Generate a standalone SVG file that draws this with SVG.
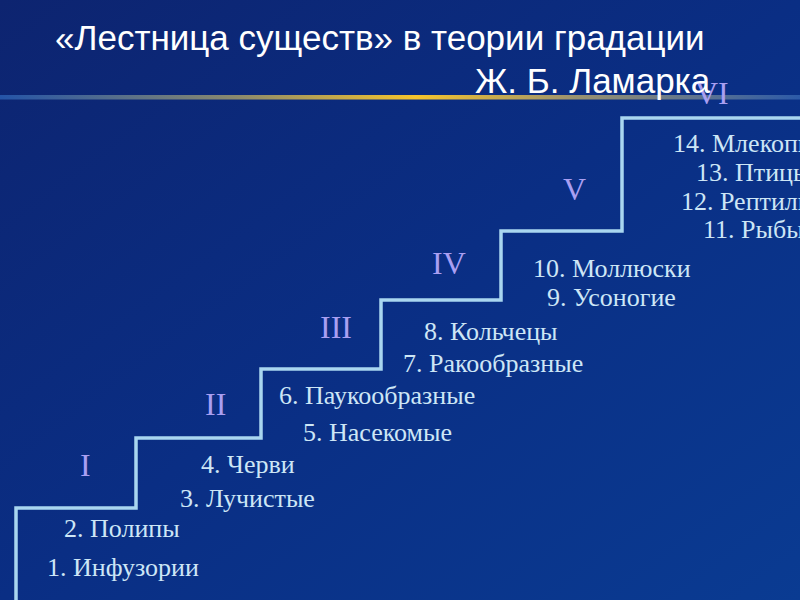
<svg xmlns="http://www.w3.org/2000/svg" width="800" height="600" viewBox="0 0 800 600">
<defs>
<linearGradient id="bg" x1="0" y1="0" x2="1" y2="1">
<stop offset="0" stop-color="#0d2470"/>
<stop offset="0.5" stop-color="#0a2e84"/>
<stop offset="1" stop-color="#0a3b92"/>
</linearGradient>
<linearGradient id="gold" x1="0" y1="0" x2="1" y2="0">
<stop offset="0" stop-color="#2454a8"/>
<stop offset="0.3" stop-color="#8c8a6c"/>
<stop offset="0.52" stop-color="#f6c42c"/>
<stop offset="0.72" stop-color="#9a9270"/>
<stop offset="1" stop-color="#2c5aa8"/>
</linearGradient>
<style>
.title{font-family:"Liberation Sans",Arial,sans-serif;font-size:35px;fill:#ffffff}
.roman{font-family:"Liberation Serif","Times New Roman",serif;font-size:32px;fill:#a99ff2}
.lbl{font-family:"Liberation Serif","Times New Roman",serif;font-size:26px;fill:#cde6f6}
.stair{fill:none;stroke:#a9d6f0;stroke-width:3.5;stroke-linejoin:miter}
</style>
</defs>
<rect x="0" y="0" width="800" height="600" fill="url(#bg)"/>
<rect x="0" y="95" width="800" height="4.5" fill="url(#gold)"/>
<g id="connectors">
<path class="stair" d="M16,600 V508 H136 V438 H261 V369 H381 V300 H501 V231 H622 V118 H802"/>
</g>
<g id="level-VI"><text class="roman" x="695" y="104">VI</text></g>
<g id="title">
<text class="title" x="55" y="50">«Лестница существ» в теории градации</text>
<text class="title" x="475" y="93">Ж. Б. Ламарка</text>
</g>
<g id="level-I">
<text class="roman" x="80" y="476">I</text>
<text class="lbl" x="47" y="576">1. Инфузории</text>
<text class="lbl" x="64" y="537">2. Полипы</text>
</g>
<g id="level-II">
<text class="roman" x="205" y="415">II</text>
<text class="lbl" x="180" y="507">3. Лучистые</text>
<text class="lbl" x="201" y="473">4. Черви</text>
</g>
<g id="level-III">
<text class="roman" x="320" y="338">III</text>
<text class="lbl" x="303" y="441">5. Насекомые</text>
<text class="lbl" x="279" y="404">6. Паукообразные</text>
</g>
<g id="level-IV">
<text class="roman" x="432" y="274">IV</text>
<text class="lbl" x="403" y="372">7. Ракообразные</text>
<text class="lbl" x="424" y="340">8. Кольчецы</text>
</g>
<g id="level-V">
<text class="roman" x="563" y="200">V</text>
<text class="lbl" x="547" y="306">9. Усоногие</text>
<text class="lbl" x="533" y="277">10. Моллюски</text>
</g>
<g id="level-VI-labels">
<text class="lbl" x="703" y="238">11. Рыбы</text>
<text class="lbl" x="681" y="210">12. Рептилии</text>
<text class="lbl" x="696" y="181">13. Птицы</text>
<text class="lbl" x="673" y="152">14. Млекопитающие</text>
</g>
</svg>
